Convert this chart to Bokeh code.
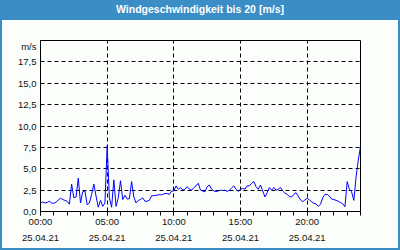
from bokeh.plotting import figure
from bokeh.models import Range1d, FixedTicker, Div
from bokeh.layouts import column, row
from bokeh.embed import file_html
from bokeh.resources import INLINE

# ---- data (10-minute wind speed samples, m/s) ----
minutes = list(range(0, 1441, 10))
speed = [
    1.0, 1.1, 1.0, 1.05, 1.2, 1.0,      # 00h
    0.95, 1.1, 1.35, 1.55, 1.4, 1.3,    # 01h
    1.2, 0.85, 3.2, 1.6, 1.7, 3.9,      # 02h
    1.0, 2.3, 2.4, 0.8, 1.0, 2.0,       # 03h
    3.2, 1.8, 0.5, 1.3, 0.6, 1.0,       # 04h
    7.7, 1.6, 0.5, 3.7, 0.6, 1.6,       # 05h
    3.6, 1.4, 1.9, 1.45, 1.5, 3.5,      # 06h
    1.7, 1.0, 1.3, 1.4, 1.6, 1.2,       # 07h
    1.2, 1.3, 1.85, 1.85, 1.9, 1.95,    # 08h
    1.95, 2.0, 2.1, 2.1, 2.0, 2.4,      # 09h
    2.4, 3.0, 2.6, 2.8, 2.5, 2.6,       # 10h
    2.9, 2.6, 2.5, 2.8, 3.0, 3.3,       # 11h
    2.5, 2.4, 2.3, 2.9, 3.1, 2.6,       # 12h
    2.4, 2.35, 2.4, 2.5, 2.45, 2.5,     # 13h
    2.35, 2.5, 2.75, 3.0, 2.6, 2.35,    # 14h
    2.6, 2.7, 2.6, 3.0, 3.0, 3.3,       # 15h
    3.5, 2.9, 2.6, 3.1, 2.4, 1.7,       # 16h
    2.2, 2.8, 2.5, 2.8, 2.5, 2.6,       # 17h
    2.8, 2.4, 2.15, 2.0, 1.75, 1.7,     # 18h
    2.0, 2.2, 1.8, 1.35, 1.15, 1.35,    # 19h
    1.55, 1.35, 1.15, 0.95, 0.9, 0.6,   # 20h
    0.85, 1.6, 2.0, 2.0, 1.8, 1.45,     # 21h
    1.4, 1.3, 1.2, 1.05, 0.9, 0.55,     # 22h
    3.5, 2.6, 2.3, 1.3, 4.0, 6.0,       # 23h
    7.6,
]
x_ticks = [0, 5, 10, 15, 20]
x_labels = ["00:00\n25.04.21", "05:00\n25.04.21", "10:00\n25.04.21",
            "15:00\n25.04.21", "20:00\n25.04.21"]
y_ticks = [0, 2.5, 5, 7.5, 10, 12.5, 15, 17.5]
y_labels = ["0,0", "2,5", "5,0", "7,5", "10,0", "12,5", "15,0", "17,5"]
unit_pos = 19.3
unit_text = "m/s"
title_text = "Windgeschwindigkeit bis 20 [m/s]"

hours = [m / 60 for m in minutes]

BLUE = "#3b8dc6"
BG = "#fbfefb"
FONT = "Liberation Sans"

p = figure(width=396, height=228, x_range=Range1d(0, 24), y_range=Range1d(0, 20),
           output_backend="svg", toolbar_location=None,
           min_border_left=38, min_border_right=38, min_border_top=20, min_border_bottom=37,
           background_fill_color=BG, border_fill_color=BG)
p.outline_line_color = "black"
p.outline_line_width = 1

p.line(hours, speed, line_color="#0000ff", line_width=1)

# x axis
p.xaxis.ticker = FixedTicker(ticks=x_ticks, minor_ticks=list(range(25)))
p.xaxis.major_label_overrides = {t: l for t, l in zip(x_ticks, x_labels)}
p.xaxis.axis_line_color = "black"
p.xaxis.major_tick_line_color = "black"
p.xaxis.minor_tick_line_color = "black"
p.xaxis.major_tick_in = 0
p.xaxis.major_tick_out = 4
p.xaxis.minor_tick_in = 0
p.xaxis.minor_tick_out = 4
p.xaxis.major_label_standoff = 0
p.xaxis.major_label_text_font = FONT
p.xaxis.major_label_text_font_size = "9.5px"
p.xaxis.major_label_text_color = "#111111"
p.xaxis.major_label_text_line_height = 1.5

# y axis (unit shown as an extra label near the top)
p.yaxis.ticker = FixedTicker(ticks=y_ticks + [unit_pos], minor_ticks=[])
overrides = {t: l for t, l in zip(y_ticks, y_labels)}
overrides[unit_pos] = unit_text
p.yaxis.major_label_overrides = overrides
p.yaxis.axis_line_color = "black"
p.yaxis.major_tick_in = 0
p.yaxis.major_tick_out = 0
p.yaxis.minor_tick_in = 0
p.yaxis.minor_tick_out = 0
p.yaxis.major_label_standoff = 4
p.yaxis.major_label_text_font = FONT
p.yaxis.major_label_text_font_size = "9.5px"
p.yaxis.major_label_text_color = "#111111"

# grids
p.xgrid.ticker = FixedTicker(ticks=x_ticks)
p.ygrid.ticker = FixedTicker(ticks=y_ticks)
for g in (p.xgrid, p.ygrid):
    g.grid_line_color = "black"
    g.grid_line_dash = "4 3"
    g.grid_line_width = 1

title = Div(text=title_text, width=400, height=20, margin=0,
            styles={"background-color": BLUE, "color": "white", "font-weight": "bold",
                    "font-family": FONT, "font-size": "10.5px", "text-align": "center",
                    "line-height": "19px"})
left = Div(text="", width=2, height=228, margin=0, styles={"background-color": BLUE})
right = Div(text="", width=2, height=228, margin=0, styles={"background-color": BLUE})
bottom = Div(text="", width=400, height=2, margin=0, styles={"background-color": BLUE})

layout = column(title, row(left, p, right, spacing=0), bottom, spacing=0)

open("out.html", "w").write(file_html(layout, INLINE))
